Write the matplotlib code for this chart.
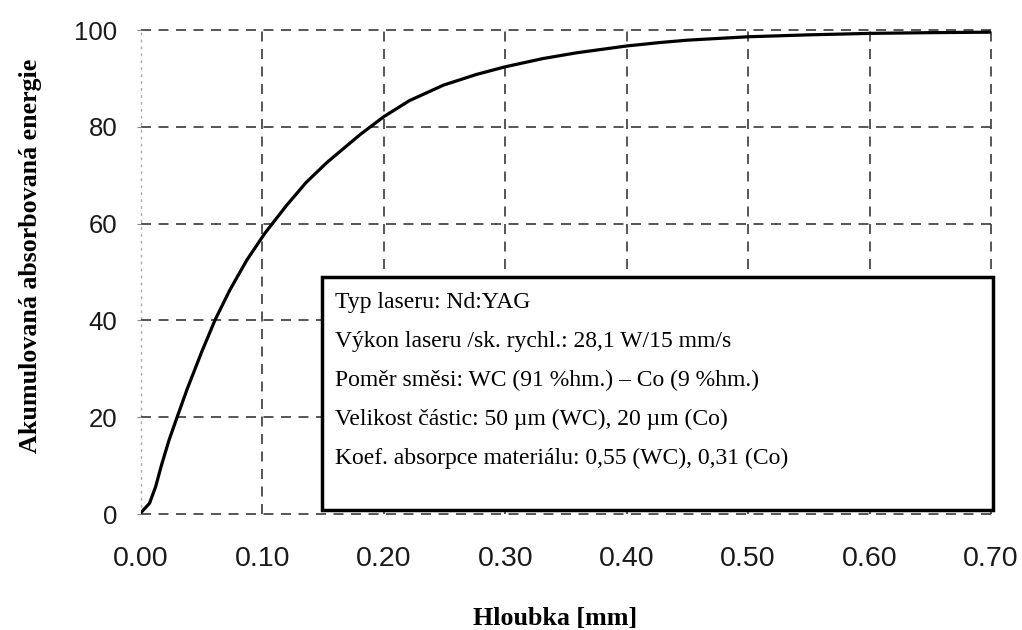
import matplotlib
matplotlib.use("Agg")
import matplotlib.pyplot as plt
from matplotlib.patches import Rectangle

# data
depth_mm = [0.0, 0.007, 0.012, 0.017, 0.023, 0.030, 0.038, 0.050, 0.061,
            0.073, 0.087, 0.102, 0.120, 0.136, 0.153, 0.180, 0.200, 0.221,
            0.249, 0.276, 0.300, 0.331, 0.359, 0.400, 0.427, 0.450, 0.500,
            0.550, 0.600, 0.650, 0.700]
energy = [0.3, 2.2, 5.6, 10.2, 15.2, 20.2, 25.8, 33.5, 40.1,
          46.2, 52.4, 58.0, 63.8, 68.5, 72.6, 78.3, 82.1, 85.4,
          88.6, 90.8, 92.4, 94.1, 95.3, 96.7, 97.4, 97.9, 98.6,
          99.0, 99.3, 99.45, 99.55]
x_ticks = [0.0, 0.1, 0.2, 0.3, 0.4, 0.5, 0.6, 0.7]
x_tick_labels = ["0.00", "0.10", "0.20", "0.30", "0.40", "0.50", "0.60", "0.70"]
y_ticks = [0, 20, 40, 60, 80, 100]
info_lines = [
    "Typ laseru: Nd:YAG",
    "Výkon laseru /sk. rychl.: 28,1 W/15 mm/s",
    "Poměr směsi: WC (91 %hm.) – Co (9 %hm.)",
    "Velikost částic: 50 µm (WC), 20 µm (Co)",
    "Koef. absorpce materiálu: 0,55 (WC), 0,31 (Co)",
]

W, H = 1022, 630
fig = plt.figure(figsize=(W / 100, H / 100), dpi=100)
ax_l, ax_r, ax_t, ax_b = 141, 991, 30, 514
ax = fig.add_axes([ax_l / W, 1 - ax_b / H, (ax_r - ax_l) / W, (ax_b - ax_t) / H])

ax.set_xlim(0, 0.70)
ax.set_ylim(0, 100)
for s in ax.spines.values():
    s.set_visible(False)

for xv in x_ticks:
    if xv == 0.0:
        ax.axvline(xv, color="#aaaaaa", lw=1.0, ls=(0, (2, 3)), zorder=1, clip_on=False)
    else:
        ax.axvline(xv, color="#3a3a3a", lw=1.2, ls=(0, (6, 4.5)), zorder=1, clip_on=False)
for yv in y_ticks:
    ax.axhline(yv, color="#3a3a3a", lw=1.2, ls=(0, (6, 4.5)), zorder=1, clip_on=False)

ax.plot(depth_mm, energy, color="black", lw=2.3, zorder=3,
        solid_capstyle="round", solid_joinstyle="round")

ax.set_xticks(x_ticks)
ax.set_xticklabels(x_tick_labels)
ax.set_yticks(y_ticks)
ax.tick_params(axis="x", length=0, pad=23, labelsize=20.5)
ax.tick_params(axis="y", length=3, width=0.8, color="#888888", pad=14, labelsize=18.5)
for lab in ax.get_xticklabels() + ax.get_yticklabels():
    lab.set_fontfamily("Liberation Sans")
    lab.set_color("#1a1a1a")

fig.text(31 / W, 1 - 256 / H, "Akumulovaná absorbovaná energie", rotation=90,
         ha="center", va="center", fontsize=18.7, fontweight="bold",
         family="Liberation Serif")
fig.text(555 / W, 1 - 625 / H, "Hloubka [mm]", ha="center", va="baseline",
         fontsize=18.7, fontweight="bold", family="Liberation Serif")

# info box
bx0, by0, bx1, by1 = 322, 277, 993, 510
fig.patches.append(Rectangle((bx0 / W, 1 - by1 / H), (bx1 - bx0) / W, (by1 - by0) / H,
                             transform=fig.transFigure, facecolor="white",
                             edgecolor="black", lw=2.5, zorder=5))
line_base = [308, 347, 386, 425, 464]
for yy, txt in zip(line_base, info_lines):
    fig.text(335 / W, 1 - yy / H, txt, ha="left", va="baseline", fontsize=17,
             family="Liberation Serif", zorder=6)

fig.savefig("out.png", dpi=100)
